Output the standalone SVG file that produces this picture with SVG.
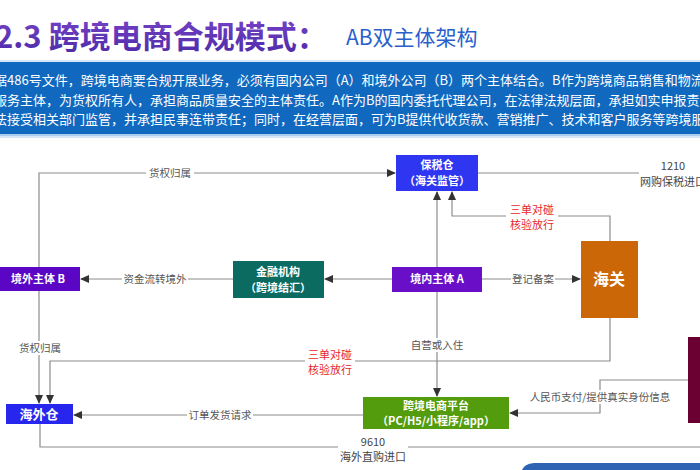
<svg xmlns="http://www.w3.org/2000/svg" width="700" height="470" viewBox="0 0 700 470">
<defs>
<marker id="arr" markerWidth="9" markerHeight="8" refX="8" refY="4" orient="auto" markerUnits="userSpaceOnUse">
<path d="M0,0 L9,4 L0,8 Z" fill="#333"/>
</marker>
<linearGradient id="tg" x1="0" y1="0" x2="0" y2="1">
<stop offset="0" stop-color="#7b45c8"/>
<stop offset="1" stop-color="#4a2aa8"/>
</linearGradient>
</defs>
<style>
text{font-family:"Noto Sans CJK SC","Noto Sans",sans-serif}
.hd{fill:#fff;font-size:13px}
.nt{fill:#fff;font-size:11px;font-weight:bold;text-anchor:middle}
.lb{fill:#555;font-size:10.5px;text-anchor:middle}
.rd{fill:#e8272b;font-size:11px;text-anchor:middle}
.ln{fill:none;stroke:#8c8c8c;stroke-width:1.2}
.bg{fill:#fff}
</style>
<rect width="700" height="470" fill="#fff"/>
<text x="-5" y="48" font-size="31" font-weight="bold" fill="url(#tg)">2.3 跨境电商合规模式：</text>
<text x="346" y="45" font-size="21" fill="#2b5fcc">AB双主体架构</text>
<rect x="0" y="60" width="700" height="78" fill="#d6e8f8"/>
<rect x="0" y="62" width="700" height="72" fill="#1069bf"/>
<rect x="0" y="134" width="700" height="2" fill="#a9cdef"/>
<text class="hd" x="-6" y="85">据486号文件，跨境电商要合规开展业务，必须有国内公司（A）和境外公司（B）两个主体结合。B作为跨境商品销售和物流</text>
<text class="hd" x="-6" y="105">服务主体，为货权所有人，承担商品质量安全的主体责任。A作为B的国内委托代理公司，在法律法规层面，承担如实申报责</text>
<text class="hd" x="-6" y="124">法接受相关部门监管，并承担民事连带责任；同时，在经营层面，可为B提供代收货款、营销推广、技术和客户服务等跨境服</text>
<g id="connectors">
<path class="ln" d="M39,267 V173 H395" marker-end="url(#arr)"/>
<rect class="bg" x="146" y="166" width="48" height="14"/>
<text class="lb" x="170" y="177">货权归属</text>
<path class="ln" d="M39,291 V403" marker-end="url(#arr)"/>
<rect class="bg" x="16" y="341" width="48" height="14"/>
<text class="lb" x="40" y="352">货权归属</text>
<path class="ln" d="M233,279 H81" marker-end="url(#arr)"/>
<rect class="bg" x="122" y="272" width="66" height="14"/>
<text class="lb" x="155" y="283">资金流转境外</text>
<path class="ln" d="M392,279 H325" marker-end="url(#arr)"/>
<path class="ln" d="M437,267 V192" marker-end="url(#arr)"/>
<path class="ln" d="M610,241 V216 H452 V192" marker-end="url(#arr)"/>
<rect class="bg" x="506" y="202" width="52" height="30"/>
<text class="rd" x="532" y="214">三单对碰</text>
<text class="rd" x="532" y="229">核验放行</text>
<path class="ln" d="M478,173 H639"/>
<text x="673" y="170" font-size="11" fill="#444" text-anchor="middle">1210</text>
<text x="640" y="186" font-size="11" fill="#444">网购保税进口</text>
<path class="ln" d="M482,279 H580" marker-end="url(#arr)"/>
<rect class="bg" x="511" y="272" width="44" height="14"/>
<text class="lb" x="533" y="283">登记备案</text>
<path class="ln" d="M437,292 V396" marker-end="url(#arr)"/>
<rect class="bg" x="409" y="338" width="56" height="14"/>
<text class="lb" x="437" y="349">自营或入住</text>
<path class="ln" d="M610,318 V361 H50 V403" marker-end="url(#arr)"/>
<rect class="bg" x="305" y="347" width="50" height="30"/>
<text class="rd" x="330" y="359">三单对碰</text>
<text class="rd" x="330" y="374">核验放行</text>
<path class="ln" d="M363,415 H74" marker-end="url(#arr)"/>
<rect class="bg" x="187" y="408" width="66" height="14"/>
<text class="lb" x="220" y="419">订单发货请求</text>
<path class="ln" d="M40,424 V447 H700"/>
<rect class="bg" x="338" y="434" width="70" height="30"/>
<text x="373" y="446" font-size="11" fill="#444" text-anchor="middle">9610</text>
<text x="373" y="461" font-size="11" fill="#444" text-anchor="middle">海外直购进口</text>
<path class="ln" d="M688,380 H600 V413 H510" marker-end="url(#arr)"/>
<rect class="bg" x="535" y="390" width="130" height="14"/>
<text class="lb" x="600" y="401">人民币支付/提供真实身份信息</text>
</g>
<g id="baoshuicang">
<rect x="396" y="155" width="82" height="36" fill="#2f36f2"/>
<text class="nt" x="437" y="169">保税仓</text>
<text class="nt" x="437" y="185">（海关监管）</text>
</g>
<g id="jingnei-A">
<rect x="392" y="267" width="90" height="25" fill="#6a0fc8"/>
<text class="nt" x="437" y="283">境内主体 A</text>
</g>
<g id="haiguan">
<rect x="581" y="241" width="57" height="77" fill="#cc6708"/>
<text x="609" y="285" font-size="16" font-weight="bold" fill="#fff" text-anchor="middle">海关</text>
</g>
<g id="jinrong">
<rect x="233" y="261" width="91" height="37" fill="#0b6b60"/>
<text class="nt" x="278" y="276">金融机构</text>
<text class="nt" x="278" y="292">（跨境结汇）</text>
</g>
<g id="jingwai-B">
<rect x="0" y="267" width="80" height="24" fill="#5b06c4"/>
<text class="nt" x="38" y="283">境外主体 B</text>
</g>
<g id="haiwaicang">
<rect x="6" y="404" width="67" height="20" fill="#2626ee"/>
<text x="39" y="419" font-size="13" font-weight="bold" fill="#fff" text-anchor="middle">海外仓</text>
</g>
<g id="pingtai">
<rect x="363" y="397" width="146" height="32" fill="#529c0e"/>
<text class="nt" x="436" y="410">跨境电商平台</text>
<text class="nt" x="436" y="425">（PC/H5/小程序/app）</text>
</g>
<g id="consumer">
<rect x="688" y="337" width="20" height="86" fill="#6b0033"/>
</g>
<path d="M522,470 Q524,464 534,463 H700 V470 Z" fill="#2e63b3"/>
</svg>
